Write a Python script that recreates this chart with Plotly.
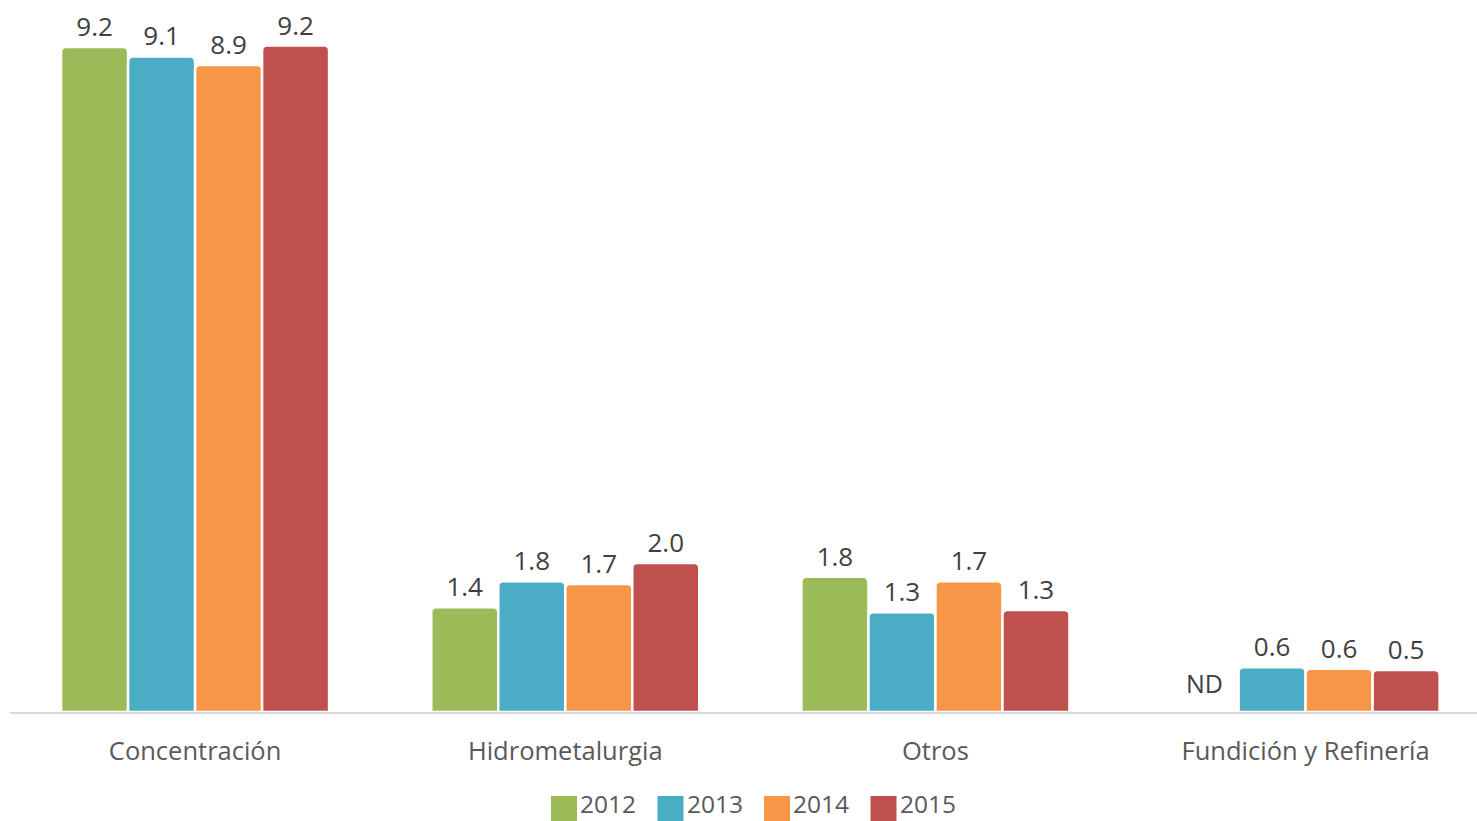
import plotly.graph_objects as go

categories = ["Concentración", "Hidrometalurgia", "Otros", "Fundición y Refinería"]
years = ["2012", "2013", "2014", "2015"]
colors = ["#9BBB59", "#4BACC6", "#F79646", "#C0504D"]

v2012 = [9.20, 1.45, 1.87, None]
v2013 = [9.07, 1.81, 1.38, 0.62]
v2014 = [8.95, 1.77, 1.81, 0.60]
v2015 = [9.22, 2.06, 1.41, 0.58]

t2012 = ["9.2", "1.4", "1.8", ""]
t2013 = ["9.1", "1.8", "1.3", "0.6"]
t2014 = ["8.9", "1.7", "1.7", "0.6"]
t2015 = ["9.2", "2.0", "1.3", "0.5"]

series = [v2012, v2013, v2014, v2015]
texts = [t2012, t2013, t2014, t2015]
nd_label = "ND"

FONT = "Open Sans"
W, H = 1477, 821
ML, MB = 10, 109
PW, PH = W - ML, H - MB

fig = go.Figure()
for yr, vals, txt, col in zip(years, series, texts, colors):
    fig.add_trace(go.Bar(
        x=categories, y=vals, name=yr, text=txt,
        textposition="outside", cliponaxis=False,
        textfont=dict(family=FONT, size=26, color="#404040"),
        marker=dict(color=col, line=dict(color="white", width=2.5), cornerradius=5),
        showlegend=False,
    ))

# ND annotation for missing 2012 value
fig.add_annotation(x=categories[3], y=0, text=nd_label, showarrow=False,
                   xshift=-101, yshift=10, yanchor="bottom",
                   font=dict(family=FONT, size=25, color="#404040"))

# custom legend
leg_x0 = 551
for i, (yr, col) in enumerate(zip(years, colors)):
    x0 = leg_x0 + i * 106.5
    fig.add_shape(type="rect", xref="paper", yref="paper",
                  x0=(x0 - ML) / PW, x1=(x0 + 26 - ML) / PW,
                  y0=(PH - 822) / PH, y1=(PH - 796) / PH,
                  fillcolor=col, line=dict(color=col, width=0))
    fig.add_annotation(xref="paper", yref="paper", x=(x0 + 27 - ML) / PW,
                       y=(PH - 803) / PH, xanchor="left", yanchor="middle",
                       text=yr, showarrow=False,
                       font=dict(family=FONT, size=24.5, color="#595959"))

fig.update_layout(
    width=W, height=H,
    margin=dict(l=ML, r=0, t=0, b=MB),
    plot_bgcolor="white", paper_bgcolor="white",
    barmode="group", bargap=0.276, bargroupgap=0,
    xaxis=dict(showline=True, linecolor="#D9D9D9", linewidth=2,
               range=[-0.5, 3.463],
               tickfont=dict(family=FONT, size=25.5, color="#595959"),
               ticks="", ticklabelstandoff=15),
    yaxis=dict(range=[0, 9.85], visible=False, showgrid=False, zeroline=False),
)

fig.write_html("out.html", config={"displayModeBar": False},
               post_script="document.body.style.margin='0';document.body.style.overflow='hidden';")
